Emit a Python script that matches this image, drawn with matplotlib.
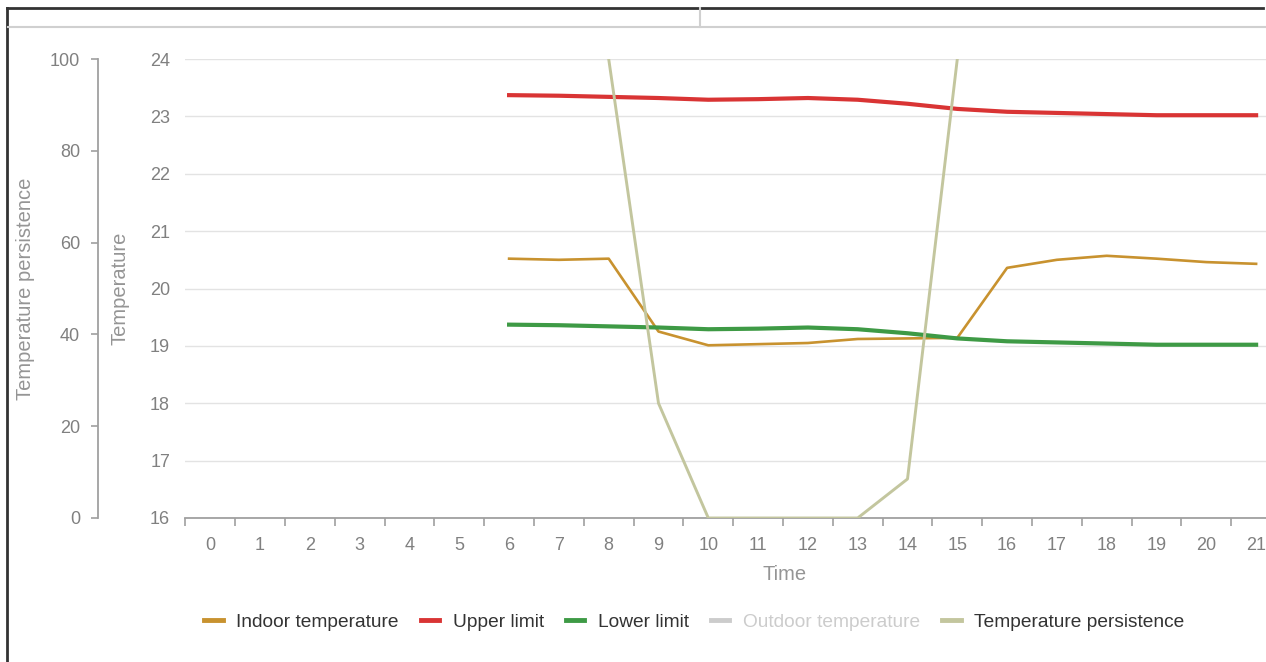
import matplotlib.pyplot as plt
import numpy as np
from matplotlib.lines import Line2D

plt.rcParams['font.family'] = ['Liberation Sans', 'DejaVu Sans']

# data
nan = np.nan
hours = list(range(22))
indoor = [nan] * 6 + [20.52, 20.50, 20.52, 19.25, 19.01, 19.03, 19.05, 19.12,
                      19.13, 19.14, 20.36, 20.50, 20.57, 20.52, 20.46, 20.43]
upper = [nan] * 6 + [23.37, 23.36, 23.34, 23.32, 23.29, 23.30, 23.32, 23.29,
                     23.22, 23.13, 23.08, 23.06, 23.04, 23.02, 23.02, 23.02]
lower = [nan] * 6 + [19.37, 19.36, 19.34, 19.32, 19.29, 19.30, 19.32, 19.29,
                     19.22, 19.13, 19.08, 19.06, 19.04, 19.02, 19.02, 19.02]
persistence = [nan] * 8 + [100, 25, 0, 0, 0, 0, 8.5, 100] + [nan] * 6

c_indoor = '#c8922f'
c_upper = '#d93434'
c_lower = '#3e9a45'
c_outdoor = '#cccccc'
c_pers = '#c3c69e'
tick_col = '#808080'
title_col = '#959595'

W, H = 1266, 662
fig = plt.figure(figsize=(W / 100, H / 100), dpi=100)
left, right, top, bottom = 185.4, 1281, 59, 518
ax = fig.add_axes([left / W, (H - bottom) / H, (right - left) / W, (bottom - top) / H])

ax.plot(hours, indoor, color=c_indoor, lw=1.9, zorder=3)
ax.plot(hours, upper, color=c_upper, lw=3.0, zorder=4)
ax.plot(hours, lower, color=c_lower, lw=3.0, zorder=5)

ax.set_xlim(-0.5, 21.5)
ax.set_ylim(16, 24)
ax.set_yticks(range(16, 25))
ax.grid(axis='y', color='#e3e3e3', lw=1)
ax.tick_params(axis='y', length=0, pad=11, labelsize=13, labelcolor=tick_col)
for s in ['top', 'right', 'left']:
    ax.spines[s].set_visible(False)
ax.spines['bottom'].set_color('#a0a0a0')
ax.spines['bottom'].set_linewidth(1.3)

ax.set_xticks(np.arange(-0.5, 22, 1))
ax.set_xticklabels([])
ax.set_xticks(hours, minor=True)
ax.set_xticklabels([str(h) for h in hours], minor=True)
ax.tick_params(axis='x', which='major', length=6, width=1.2, color='#a0a0a0')
ax.tick_params(axis='x', which='minor', length=0, pad=14, labelsize=13, labelcolor=tick_col)

ax.set_ylabel('Temperature', fontsize=14.5, color=title_col, va='center')
ax.yaxis.set_label_coords((120 - left) / (right - left), 0.5)
ax.set_xlabel('Time', fontsize=14.5, color=title_col, va='center')
ax.xaxis.set_label_coords((785 - left) / (right - left), -(574 - bottom) / (bottom - top))

# persistence axis on the far left
ax2 = ax.twinx()
ax2.plot(hours, persistence, color=c_pers, lw=2.1, zorder=6)
ax2.set_ylim(0, 100)
ax2.set_yticks(range(0, 101, 20))
for s in ['top', 'right', 'bottom']:
    ax2.spines[s].set_visible(False)
ax2.yaxis.tick_left()
ax2.yaxis.set_label_position('left')
ax2.spines['left'].set_visible(True)
ax2.spines['left'].set_position(('axes', (98 - left) / (right - left)))
ax2.spines['left'].set_color('#a0a0a0')
ax2.spines['left'].set_linewidth(1.3)
ax2.tick_params(axis='y', length=5, width=1.2, color='#a0a0a0', pad=8,
                labelsize=13, labelcolor=tick_col)
ax2.set_ylabel('Temperature persistence', fontsize=14.5, color=title_col, va='center')
ax2.yaxis.set_label_coords((25 - left) / (right - left), 0.5)

# legend
handles = [Line2D([], [], color=c_indoor, lw=3.5),
           Line2D([], [], color=c_upper, lw=3.5),
           Line2D([], [], color=c_lower, lw=3.5),
           Line2D([], [], color=c_outdoor, lw=3.5),
           Line2D([], [], color=c_pers, lw=3.5)]
names = ['Indoor temperature', 'Upper limit', 'Lower limit',
         'Outdoor temperature', 'Temperature persistence']
leg = fig.legend(handles, names, loc='center', bbox_to_anchor=(694.5 / W, 1 - 622 / H),
                 ncol=5, frameon=False, fontsize=13.8, handlelength=0.95,
                 handletextpad=0.72, columnspacing=1.15)
for t in leg.get_texts():
    t.set_color('#333333')
leg.get_texts()[3].set_color(c_outdoor)

# screenshot frame and top strip
fig.add_artist(Line2D([7 / W, 7 / W], [0, 1 - 8 / H], color='#333333', lw=2,
                      transform=fig.transFigure))
fig.add_artist(Line2D([7 / W, 1263 / W], [1 - 8 / H, 1 - 8 / H], color='#333333', lw=2,
                      transform=fig.transFigure))
fig.add_artist(Line2D([8 / W, 1], [1 - 27 / H, 1 - 27 / H], color='#d0d0d0', lw=1.5,
                      transform=fig.transFigure))
fig.add_artist(Line2D([700 / W, 700 / W], [1 - 8 / H, 1 - 27 / H], color='#d0d0d0', lw=1.5,
                      transform=fig.transFigure))

fig.savefig('out.png', dpi=100)
